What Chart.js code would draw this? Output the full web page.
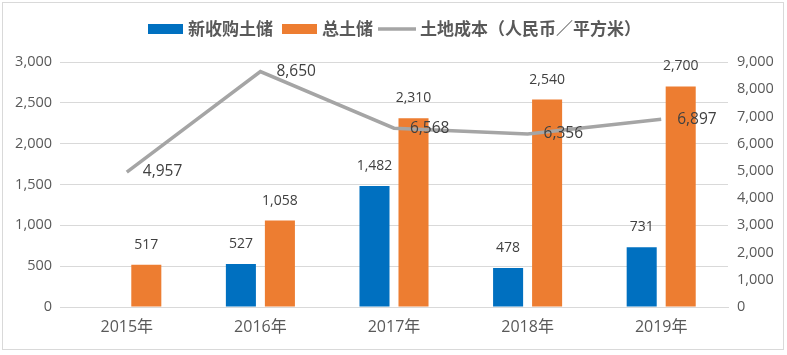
<!DOCTYPE html>
<html><head><meta charset="utf-8">
<script src="https://cdn.jsdelivr.net/npm/chart.js@4/dist/chart.umd.min.js"></script>
<style>
html,body{margin:0;padding:0;background:#fff;}
#wrap{position:relative;width:787px;height:355px;}
#frame{position:absolute;left:2px;top:2px;width:782px;height:348px;border:1px solid #D9D9D9;box-sizing:border-box;pointer-events:none;}
canvas{position:absolute;left:0;top:0;}
</style></head>
<body>
<div id="wrap"><canvas id="c" width="787" height="355"></canvas><div id="frame"></div></div>
<script>
const categories = ['2015年','2016年','2017年','2018年','2019年'];
const newLandBank = [null, 527, 1482, 478, 731];
const totalLandBank = [517, 1058, 2310, 2540, 2700];
const landCost = [4957, 8650, 6568, 6356, 6897];
const leftTicks = [0, 500, 1000, 1500, 2000, 2500, 3000];
const rightTicks = [0, 1000, 2000, 3000, 4000, 5000, 6000, 7000, 8000, 9000];
const seriesNames = ['新收购土储', '总土储', '土地成本（人民币／平方米）'];

const TEXT = '#595959';
const FONT = '"Open Sans", "Noto Sans CJK SC", sans-serif';
const fmt = v => v.toLocaleString('en-US');

const labelPlugin = {
  id: 'labels',
  afterDatasetsDraw(chart) {
    const ctx = chart.ctx;
    ctx.save();
    ctx.fillStyle = '#404040';
    ctx.textBaseline = 'middle';
    [0, 1].forEach(di => {
      const meta = chart.getDatasetMeta(di);
      ctx.font = '14px ' + FONT;
      ctx.textAlign = 'center';
      meta.data.forEach((el, i) => {
        const v = chart.data.datasets[di].data[i];
        if (v == null) return;
        ctx.fillText(fmt(v), el.x, el.y - 20);
      });
    });
    const lm = chart.getDatasetMeta(2);
    ctx.font = '15.5px ' + FONT;
    ctx.textAlign = 'left';
    lm.data.forEach((el, i) => {
      const v = chart.data.datasets[2].data[i];
      ctx.fillText(fmt(v), el.x + 16, el.y);
    });
    ctx.restore();
  },
  afterDraw(chart) {
    const ctx = chart.ctx;
    ctx.save();
    const cy = 29;
    ctx.textBaseline = 'middle';
    ctx.textAlign = 'left';
    ctx.font = 'bold 17px "Noto Sans CJK SC", sans-serif';
    ctx.fillStyle = '#0070C0';
    ctx.fillRect(148, cy - 5, 35, 10);
    ctx.fillStyle = TEXT;
    ctx.fillText(seriesNames[0], 188, cy);
    ctx.fillStyle = '#ED7D31';
    ctx.fillRect(282, cy - 5, 35, 10);
    ctx.fillStyle = TEXT;
    ctx.fillText(seriesNames[1], 322, cy);
    ctx.strokeStyle = '#A5A5A5';
    ctx.lineWidth = 3.5;
    ctx.beginPath();
    ctx.moveTo(378, cy); ctx.lineTo(416, cy);
    ctx.stroke();
    ctx.fillStyle = TEXT;
    ctx.fillText(seriesNames[2], 420, cy);
    ctx.restore();
  }
};

new Chart(document.getElementById('c'), {
  type: 'bar',
  data: {
    labels: categories,
    datasets: [
      { label: seriesNames[0], data: newLandBank, backgroundColor: '#0070C0', yAxisID: 'y', order: 2,
        categoryPercentage: 0.584, barPercentage: 0.77 },
      { label: seriesNames[1], data: totalLandBank, backgroundColor: '#ED7D31', yAxisID: 'y', order: 2,
        categoryPercentage: 0.584, barPercentage: 0.77 },
      { type: 'line', label: seriesNames[2], data: landCost, borderColor: '#A5A5A5', backgroundColor: '#A5A5A5',
        borderWidth: 3.5, pointRadius: 0, tension: 0, yAxisID: 'y1', order: 0 }
    ]
  },
  options: {
    responsive: false,
    animation: false,
    events: [],
    layout: { padding: { top: 62, left: 0, right: 0, bottom: 0 } },
    plugins: { legend: { display: false }, tooltip: { enabled: false } },
    scales: {
      x: {
        grid: { display: false, drawTicks: false },
        border: { display: true, color: '#D9D9D9', width: 1 },
        ticks: { color: TEXT, font: { size: 16, family: FONT }, padding: 11 },
        afterFit(s) { s.height = 48; }
      },
      y: {
        position: 'left', min: 0, max: 3000,
        afterBuildTicks(s) { s.ticks = leftTicks.map(v => ({ value: v })); },
        grid: { color: '#D9D9D9', drawTicks: false },
        border: { display: false },
        ticks: { color: TEXT, font: { size: 14.5, family: FONT }, padding: 8, callback: v => fmt(v) },
        afterFit(s) { s.width = 60; }
      },
      y1: {
        position: 'right', min: 0, max: 9000,
        afterBuildTicks(s) { s.ticks = rightTicks.map(v => ({ value: v })); },
        grid: { display: false, drawTicks: false },
        border: { display: false },
        ticks: { color: TEXT, font: { size: 14.5, family: FONT }, padding: 9, callback: v => fmt(v) },
        afterFit(s) { s.width = 59; }
      }
    }
  },
  plugins: [labelPlugin]
});
</script>
</body></html>
